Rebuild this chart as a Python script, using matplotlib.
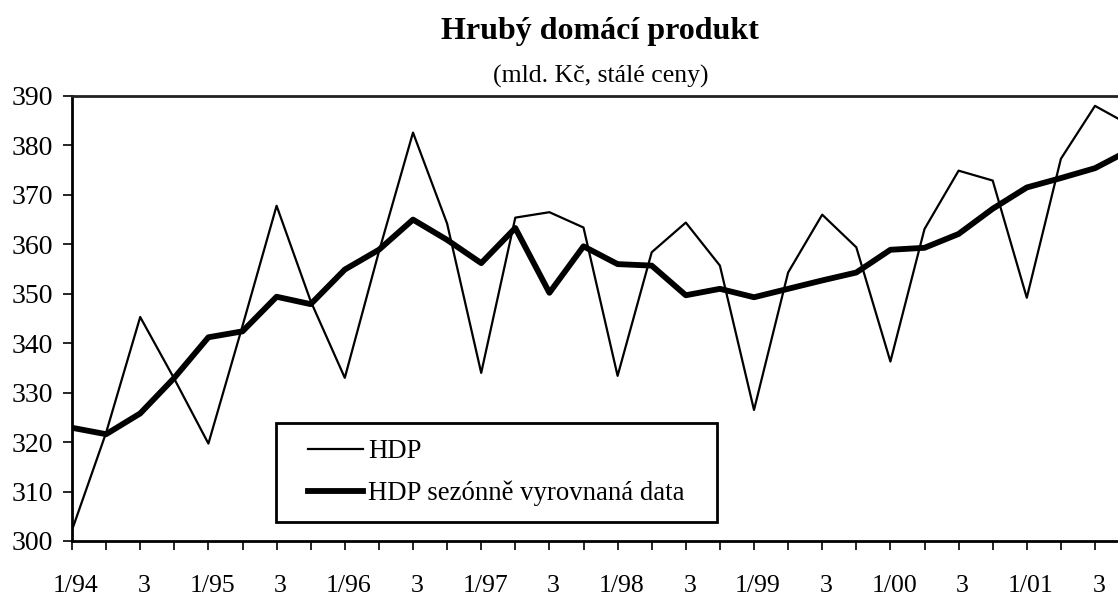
import numpy as np
import matplotlib
matplotlib.use("Agg")
from matplotlib import pyplot as plt
from matplotlib import transforms
from matplotlib.patches import Rectangle

plt.rcParams['font.family'] = ['Liberation Serif', 'DejaVu Serif']

# quarterly data 1/94 .. 4/01 (mld. Kc, stale ceny)
hdp = [302.2, 321.9, 345.3, 332.8, 319.7, 343.5, 367.8, 348.5,
       333.0, 358.5, 382.6, 364.2, 334.0, 365.4, 366.5, 363.4,
       333.4, 358.4, 364.4, 355.7, 326.5, 354.3, 366.0, 359.4,
       336.3, 363.1, 374.9, 372.9, 349.2, 377.3, 388.0, 384.2]
hdp_sa = [322.9, 321.6, 325.8, 333.0, 341.2, 342.4, 349.4, 347.9,
          354.9, 358.9, 365.0, 360.9, 356.2, 363.3, 350.2, 359.6,
          356.0, 355.7, 349.7, 351.0, 349.3, 351.0, 352.7, 354.3,
          358.9, 359.3, 362.1, 367.2, 371.5, 373.4, 375.4, 379.0]
years = ["94", "95", "96", "97", "98", "99", "00", "01"]
tick_labels = []
for y in years:
    tick_labels += ["1/" + y, "", "3", ""]

x = np.arange(len(hdp))

W, H = 1118, 597
fig = plt.figure(figsize=(W/100, H/100), dpi=100)
# axes run past the right edge of the figure, as in the original
ax = fig.add_axes([72/W, 56/H, 31*34.1/W, 445/H])

ax.plot(x, hdp, color='black', lw=1.6, label='HDP')
ax.plot(x, hdp_sa, color='black', lw=4.2, label='HDP sezónně vyrovnaná data')

ax.set_xlim(0, 31)
ax.set_ylim(300, 390)
ax.set_yticks(np.arange(300, 391, 10))
ax.set_xticks(x)
ax.set_xticklabels(tick_labels)

ax.tick_params(axis='both', direction='out', length=6.5, width=1.2, colors='black')
ax.tick_params(axis='x', pad=18, labelsize=18.5)
ax.tick_params(axis='y', pad=7, labelsize=20)
# labels sit slightly right of their ticks in the original
off = transforms.ScaledTranslation(4/100, 0, fig.dpi_scale_trans)
for lab in ax.get_xticklabels():
    lab.set_transform(lab.get_transform() + off)

for s in ['left', 'bottom', 'top']:
    ax.spines[s].set_linewidth(2)
ax.spines['top'].set_color('#222222')
ax.spines['right'].set_visible(False)

# legend box drawn by hand, entries without frame
box = Rectangle((276/W, 1 - 522/H), 441/W, 99/H, transform=fig.transFigure,
                facecolor='white', edgecolor='black', lw=2, zorder=5,
                clip_on=False)
ax.add_patch(box)
leg = ax.legend(loc='upper left', bbox_to_anchor=(308/W, 1 - 439/H),
                bbox_transform=fig.transFigure, borderaxespad=0, borderpad=0,
                frameon=False, fontsize=19.3, handlelength=2.05,
                handletextpad=0.19, labelspacing=0.62)
leg.set_zorder(6)

fig.text(0.537, 0.947, "Hrubý domácí produkt", ha='center', va='center',
         fontsize=23, fontweight='bold')
fig.text(0.537, 0.872, "(mld. Kč, stálé ceny)", ha='center', va='center',
         fontsize=18.5)

plt.savefig("out.png", dpi=100)
